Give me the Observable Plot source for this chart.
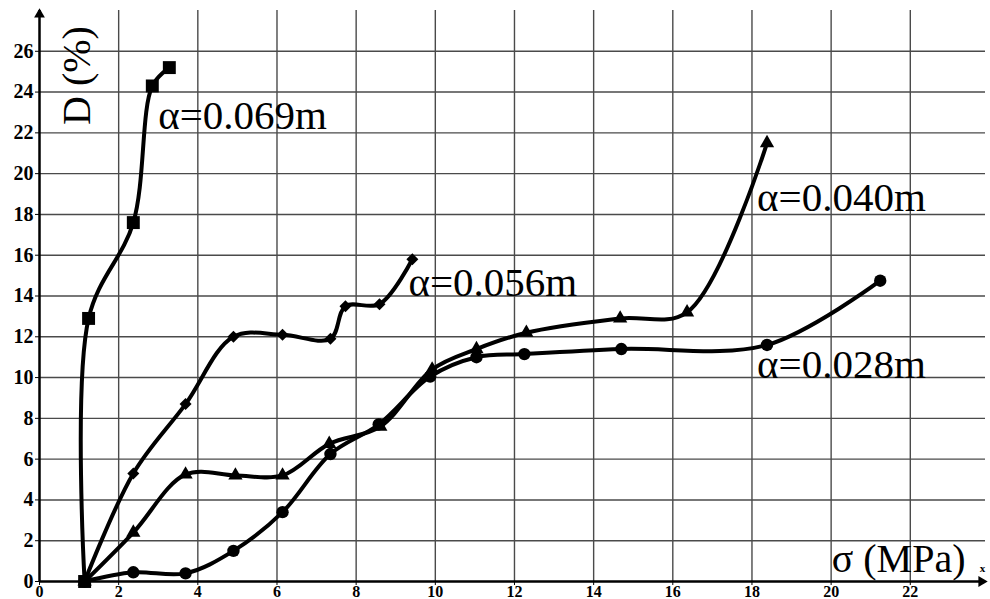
<!DOCTYPE html>
<html>
<head>
<meta charset="utf-8">
<script src="https://cdn.jsdelivr.net/npm/d3@7"></script>
<script src="https://cdn.jsdelivr.net/npm/@observablehq/plot@0.6"></script>
<style>
  html, body { margin: 0; padding: 0; background: #fff; }
  #chart svg { display: block; }
</style>
</head>
<body>
<div id="chart"></div>
<script>
// Damage D (%) against stress σ (MPa) for four spacings α
const seriesNames = ["α=0.069m", "α=0.056m", "α=0.040m", "α=0.028m"];
const seriesSymbols = ["square", "diamond2", "triangle", "circle"];
const seriesMarkerR = [7.3, 5.4, 5.3, 6.2];

const sigma069 = [1.14, 1.24, 2.37, 2.85, 3.28];
const damage069 = [0, 12.9, 17.6, 24.3, 25.2];

const sigma056 = [1.14, 2.37, 3.69, 4.90, 6.14, 7.35, 7.73, 8.59, 9.42];
const damage056 = [0, 5.3, 8.7, 12.0, 12.1, 11.9, 13.5, 13.6, 15.8];

const sigma040 = [1.14, 2.37, 3.69, 4.95, 6.14, 7.32, 8.61, 9.92, 11.04, 12.3, 14.67, 16.36, 18.38];
const damage040 = [0, 2.4, 5.25, 5.2, 5.2, 6.75, 7.6, 10.4, 11.4, 12.2, 12.9, 13.2, 21.5];

const sigma028 = [1.14, 2.37, 3.69, 4.90, 6.14, 7.35, 8.57, 9.87, 11.04, 12.25, 14.7, 18.38, 21.24];
const damage028 = [0, 0.45, 0.4, 1.5, 3.4, 6.25, 7.7, 10.05, 11.0, 11.15, 11.4, 11.6, 14.75];

// Label anchor points (start of each curve label)
const labelSigma = [3.0, 9.32, 18.13, 18.13];
const labelDamage = [22.85, 14.66, 18.82, 10.64];

const xTicks = [0, 2, 4, 6, 8, 10, 12, 14, 16, 18, 20, 22];
const yTicks = [0, 2, 4, 6, 8, 10, 12, 14, 16, 18, 20, 22, 24, 26];
const xGrid = [2, 4, 6, 8, 10, 12, 14, 16, 18, 20, 22];
const yGrid = [2, 4, 6, 8, 10, 12, 14, 16, 18, 20, 22, 24, 26];

const sigmas = [sigma069, sigma056, sigma040, sigma028];
const damages = [damage069, damage056, damage040, damage028];

const rows = sigmas.flatMap((xs, i) =>
  xs.map((x, j) => ({series: seriesNames[i], k: i, sigma: x, D: damages[i][j]}))
);
const labels = seriesNames.map((name, i) => ({name, sigma: labelSigma[i], D: labelDamage[i]}));

const serif = "'Liberation Serif', 'DejaVu Serif', serif";

const chart = Plot.plot({
  width: 990,
  height: 599,
  marginLeft: 39,
  marginRight: 5,
  marginTop: 10,
  marginBottom: 18,
  x: {domain: [0, 23.9]},
  y: {domain: [0, 28]},
  style: {background: "#fff", color: "#000", overflow: "visible"},
  marks: [
    Plot.gridX(xGrid, {stroke: "#4a4a4a", strokeOpacity: 1, strokeWidth: 1.4}),
    Plot.gridY(yGrid, {stroke: "#4a4a4a", strokeOpacity: 1, strokeWidth: 1.4}),
    Plot.axisX(xTicks, {tickSize: 4, tickPadding: 0, fontFamily: serif, fontSize: 16, fontWeight: "bold",
      fill: "#000", stroke: "#000", label: null}),
    Plot.axisY(yTicks, {tickSize: 4, tickPadding: 2, fontFamily: serif, fontSize: 20, fontWeight: "bold",
      fill: "#000", stroke: "#000", label: null}),
    Plot.ruleY([0], {stroke: "#000", strokeWidth: 2.5}),
    Plot.ruleX([0], {stroke: "#000", strokeWidth: 2.5}),
    // axis arrowheads
    Plot.dot([0], {frameAnchor: "top-left", dy: 4, symbol: "triangle", r: 4, fill: "#000"}),
    Plot.dot([0], {frameAnchor: "bottom-right", dx: -4, symbol: "triangle", r: 4, rotate: 90, fill: "#000"}),
    ...seriesNames.map((name, i) =>
      Plot.line(rows.filter(d => d.k === i), {x: "sigma", y: "D", curve: "catmull-rom", stroke: "#000", strokeWidth: 4})
    ),
    ...seriesNames.map((name, i) =>
      Plot.dot(rows.filter(d => d.k === i), {x: "sigma", y: "D", symbol: seriesSymbols[i], r: seriesMarkerR[i],
        fill: "#000", stroke: "none"})
    ),
    Plot.text(labels, {x: "sigma", y: "D", text: "name", textAnchor: "start", lineAnchor: "middle",
      fontFamily: serif, fontSize: 41, fill: "#000"}),
    Plot.text(["D (%)"], {frameAnchor: "top-left", dx: 38, dy: 65, rotate: -90, textAnchor: "middle", lineAnchor: "middle",
      fontFamily: serif, fontSize: 40, fill: "#000"}),
    Plot.text(["σ (MPa)"], {frameAnchor: "bottom-right", dx: -20, dy: -22, textAnchor: "end", lineAnchor: "middle",
      fontFamily: serif, fontSize: 40, fill: "#000"}),
    Plot.text(["x"], {frameAnchor: "bottom-right", dx: -3, dy: -13, textAnchor: "middle", lineAnchor: "middle",
      fontFamily: serif, fontSize: 11, fontWeight: "bold", fill: "#000"})
  ]
});
document.getElementById("chart").append(chart);
</script>
</body>
</html>
